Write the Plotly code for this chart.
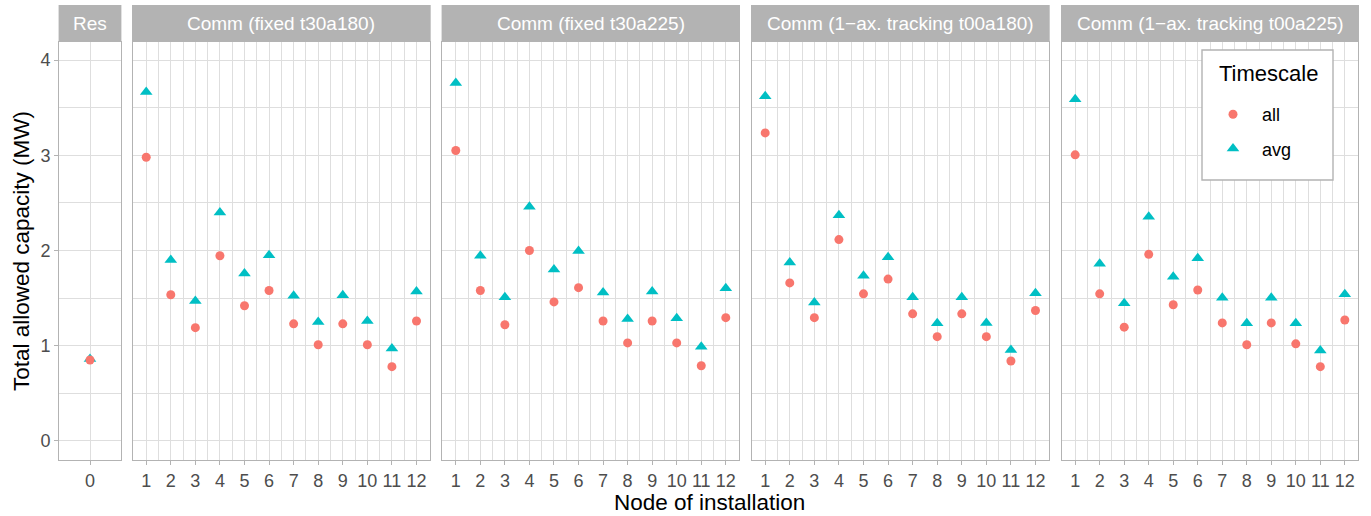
import plotly.graph_objects as go

# ---------------- data ----------------
panel_titles = ["Res", "Comm (fixed t30a180)", "Comm (fixed t30a225)",
                "Comm (1\u2212ax. tracking t00a180)", "Comm (1\u2212ax. tracking t00a225)"]
res_nodes = [0]
comm_nodes = [1, 2, 3, 4, 5, 6, 7, 8, 9, 10, 11, 12]

res_all = [0.85]
res_avg = [0.86]

fixed180_all = [2.98, 1.535, 1.19, 1.945, 1.42, 1.58, 1.23, 1.01, 1.23, 1.01, 0.78, 1.26]
fixed180_avg = [3.665, 1.90, 1.47, 2.40, 1.76, 1.95, 1.525, 1.25, 1.53, 1.26, 0.97, 1.57]

fixed225_all = [3.05, 1.58, 1.22, 2.00, 1.46, 1.61, 1.26, 1.03, 1.26, 1.03, 0.79, 1.295]
fixed225_avg = [3.76, 1.945, 1.51, 2.46, 1.80, 1.995, 1.56, 1.28, 1.57, 1.29, 0.99, 1.605]

track180_all = [3.235, 1.66, 1.295, 2.115, 1.545, 1.70, 1.335, 1.095, 1.335, 1.095, 0.84, 1.37]
track180_avg = [3.62, 1.875, 1.455, 2.37, 1.735, 1.93, 1.51, 1.235, 1.51, 1.24, 0.955, 1.55]

track225_all = [3.005, 1.545, 1.195, 1.96, 1.43, 1.585, 1.24, 1.01, 1.24, 1.02, 0.78, 1.27]
track225_avg = [3.59, 1.86, 1.445, 2.355, 1.725, 1.92, 1.505, 1.235, 1.505, 1.235, 0.95, 1.54]

y_ticks = [0, 1, 2, 3, 4]
legend_title = "Timescale"

panels = [
    (res_nodes, res_all, res_avg),
    (comm_nodes, fixed180_all, fixed180_avg),
    (comm_nodes, fixed225_all, fixed225_avg),
    (comm_nodes, track180_all, track180_avg),
    (comm_nodes, track225_all, track225_avg),
]

# ---------------- layout geometry ----------------
W, H = 1371, 516
panel_px = [(59.3, 120.7), (132.7, 430.0), (442.3, 739.3), (751.7, 1049.0), (1061.7, 1358.3)]
plot_top, plot_bot = 42.0, 460.0
strip_top = 5.0

def px_x(p):
    return p / W

def px_y(p):
    return 1 - p / H

FONT = "Liberation Sans, Arial, Helvetica, sans-serif"
RED = "#F8766D"
TEAL = "#00BFC4"
GRID = "#DEDEDE"
BORDER = "#B3B3B3"
TICK_SIZE = 18
STRIP_SIZE = 19
TITLE_SIZE = 22.5

fig = go.Figure()

# avg traces first (drawn beneath), then all
for i, (nodes, a_all, a_avg) in enumerate(panels):
    sfx = "" if i == 0 else str(i + 1)
    fig.add_trace(go.Scatter(
        x=nodes, y=a_avg, mode="markers", name="avg",
        legendgroup="avg", legendrank=2, showlegend=(i == 0),
        marker=dict(symbol="triangle-up", size=11, color=TEAL),
        xaxis="x" + sfx, yaxis="y" + sfx, cliponaxis=False))
for i, (nodes, a_all, a_avg) in enumerate(panels):
    sfx = "" if i == 0 else str(i + 1)
    fig.add_trace(go.Scatter(
        x=nodes, y=a_all, mode="markers", name="all",
        legendgroup="all", legendrank=1, showlegend=(i == 0),
        marker=dict(symbol="circle", size=9, color=RED),
        xaxis="x" + sfx, yaxis="y" + sfx, cliponaxis=False))

layout = dict(
    width=W, height=H,
    margin=dict(l=0, r=0, t=0, b=0, autoexpand=False),
    paper_bgcolor="white", plot_bgcolor="white",
    font=dict(family=FONT, size=17, color="#4D4D4D"),
    showlegend=True,
    legend=dict(
        x=px_x(1204), y=px_y(96), xanchor="left", yanchor="top",
        bgcolor="rgba(0,0,0,0)", borderwidth=0,
        font=dict(family=FONT, size=18, color="black"),
        traceorder="grouped", tracegroupgap=8,
        itemwidth=48,
    ),
    shapes=[], annotations=[],
)

for i, (x0, x1) in enumerate(panel_px):
    sfx = "" if i == 0 else str(i + 1)
    if i == 0:
        xax = dict(tickvals=res_nodes, range=[-0.5, 0.5])
    else:
        xax = dict(tickvals=comm_nodes, range=[0.45, 12.55],
                   minor=dict(tickvals=[n + 0.5 for n in comm_nodes[:-1]],
                              showgrid=True, gridcolor=GRID, gridwidth=0.6, ticks=""))
    xax.update(dict(
        domain=[px_x(x0), px_x(x1)], anchor="y" + sfx, automargin=False,
        showgrid=True, gridcolor=GRID, gridwidth=1.1, zeroline=False,
        showline=True, mirror=True, linecolor=BORDER, linewidth=1.4,
        ticks="outside", ticklen=4, tickwidth=1.1, tickcolor=BORDER,
        tickfont=dict(family=FONT, size=TICK_SIZE, color="#4D4D4D"),
        fixedrange=True,
    ))
    yax = dict(
        domain=[px_y(plot_bot), px_y(plot_top)], anchor="x" + sfx, automargin=False,
        range=[-0.2, 4.19], tickvals=y_ticks,
        showgrid=True, gridcolor=GRID, gridwidth=1.1, zeroline=False,
        minor=dict(tickvals=[0.5, 1.5, 2.5, 3.5], showgrid=True, gridcolor=GRID,
                   gridwidth=0.6, ticks=""),
        showline=True, mirror=True, linecolor=BORDER, linewidth=1.4,
        fixedrange=True,
    )
    if i == 0:
        yax.update(dict(ticks="outside", ticklen=4, tickwidth=1.1, tickcolor=BORDER,
                        tickfont=dict(family=FONT, size=TICK_SIZE, color="#4D4D4D")))
    else:
        yax.update(dict(ticks="", showticklabels=False))
    layout["xaxis" + sfx] = xax
    layout["yaxis" + sfx] = yax

    # strip
    layout["shapes"].append(dict(
        type="rect", xref="paper", yref="paper",
        x0=px_x(x0 - 0.7), x1=px_x(x1 + 0.7), y0=px_y(plot_top), y1=px_y(strip_top),
        fillcolor=BORDER, line=dict(width=0), layer="below"))
    layout["annotations"].append(dict(
        text=panel_titles[i], xref="paper", yref="paper",
        x=px_x((x0 + x1) / 2), y=px_y((strip_top + plot_top) / 2),
        xanchor="center", yanchor="middle", showarrow=False,
        font=dict(family=FONT, size=STRIP_SIZE, color="white")))

# legend box and title
layout["shapes"].append(dict(
    type="rect", xref="paper", yref="paper",
    x0=px_x(1202), x1=px_x(1333), y0=px_y(180), y1=px_y(50),
    fillcolor="white", line=dict(color=BORDER, width=1.4), layer="above"))
layout["annotations"].append(dict(
    text=legend_title, xref="paper", yref="paper",
    x=px_x(1217), y=px_y(73), xanchor="left", yanchor="middle", showarrow=False,
    font=dict(family=FONT, size=22, color="black")))

# axis titles
layout["annotations"].append(dict(
    text="Node of installation", xref="paper", yref="paper",
    x=px_x(709), y=px_y(502), xanchor="center", yanchor="middle", showarrow=False,
    font=dict(family=FONT, size=TITLE_SIZE, color="black")))
layout["annotations"].append(dict(
    text="Total allowed capacity (MW)", xref="paper", yref="paper",
    x=px_x(21), y=px_y(251), xanchor="center", yanchor="middle", showarrow=False,
    textangle=-90, font=dict(family=FONT, size=TITLE_SIZE, color="black")))

fig.update_layout(**layout)
fig.write_html("out.html", config={"displayModeBar": False},
               post_script="document.body.style.margin='0px';document.body.style.padding='0px';")
